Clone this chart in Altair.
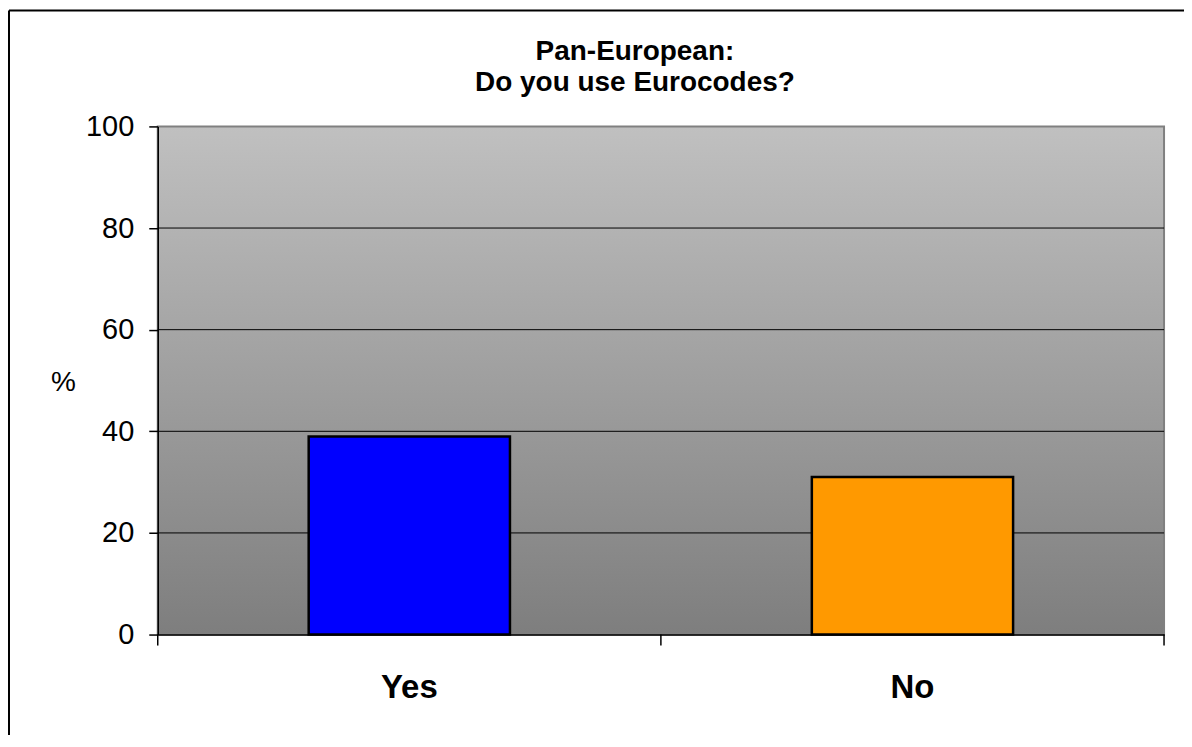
import altair as alt
import pandas as pd

categories = ["Yes", "No"]
values = [39, 31]
colors = ["#0000ff", "#ff9900"]
y_ticks = [0, 20, 40, 60, 80, 100]
grid_values = [20, 40, 60, 80]

FONT = "Liberation Sans"
W, H = 1008, 509

bars_df = pd.DataFrame({"answer": categories, "pct": values})
grid_df = pd.DataFrame({"pct": grid_values})
one = alt.Data(values=[{"k": 1}])

x_scale = alt.Scale(domain=categories, paddingInner=0.6, paddingOuter=0.3)
y_scale = alt.Scale(domain=[0, 100], nice=False)

y_axis = alt.Axis(values=y_ticks, grid=False, domainColor="black", domainWidth=1.5,
                  tickColor="black", tickSize=9, tickWidth=1.5,
                  labelFont=FONT, labelFontSize=29, labelColor="black", labelPadding=15,
                  title="%", titleAngle=0, titleFont=FONT, titleFontSize=28,
                  titleFontWeight="normal", titleColor="black",
                  titleX=-95, titleY=257, titleAlign="center", titleBaseline="middle",
                  zindex=1)

gradient = alt.Gradient(
    gradient="linear",
    stops=[alt.GradientStop(color="#c0c0c0", offset=0),
           alt.GradientStop(color="#7e7e7e", offset=1)],
    x1=0, x2=0, y1=0, y2=1,
)

background = alt.Chart(one).mark_rect(fill=gradient, stroke="#808080", strokeWidth=2).encode(
    x=alt.value(0), x2=alt.value(W), y=alt.value(0), y2=alt.value(H)
)

grid = alt.Chart(grid_df).mark_rule(color="black", strokeWidth=1).encode(
    y=alt.Y("pct:Q", scale=y_scale, axis=y_axis)
)

bars = alt.Chart(bars_df).mark_bar(stroke="black", strokeWidth=2.5).encode(
    x=alt.X("answer:N", scale=x_scale, sort=categories,
            axis=alt.Axis(title=None, ticks=False, tickSize=0, labelAngle=0,
                          labelFont=FONT, labelFontSize=33, labelFontWeight="bold",
                          labelColor="black", labelPadding=37,
                          domainColor="black", domainWidth=1.5, zindex=1)),
    y=alt.Y("pct:Q", scale=y_scale, axis=y_axis),
    color=alt.Color("answer:N", scale=alt.Scale(domain=categories, range=colors), legend=None),
)

ticks = alt.layer(*[
    alt.Chart(one).mark_rule(color="black", strokeWidth=1.5).encode(
        x=alt.value(px), y=alt.value(H), y2=alt.value(H + 11))
    for px in (0, W / 2, W)
])

border_top = alt.Chart(one).mark_rule(color="black", strokeWidth=2).encode(
    x=alt.value(-149), x2=alt.value(W + 200), y=alt.value(-116)
)
border_left = alt.Chart(one).mark_rule(color="black", strokeWidth=2).encode(
    x=alt.value(-149), y=alt.value(-116), y2=alt.value(H + 300)
)

chart = alt.layer(background, grid, bars, ticks, border_top, border_left).properties(
    width=W, height=H,
    title=alt.TitleParams(
        text=["Pan-European:", "Do you use Eurocodes?"],
        font=FONT, fontSize=28, fontWeight="bold", color="black",
        anchor="middle", dx=-26, offset=0, dy=88, lineHeight=32,
    ),
    autosize=alt.AutoSizeParams(type="none"),
    padding={"left": 150, "top": 118, "right": 20, "bottom": 100},
).configure_view(stroke=None).configure(background="white")

chart.save("out.html", embed_options={"renderer": "svg", "actions": False})
